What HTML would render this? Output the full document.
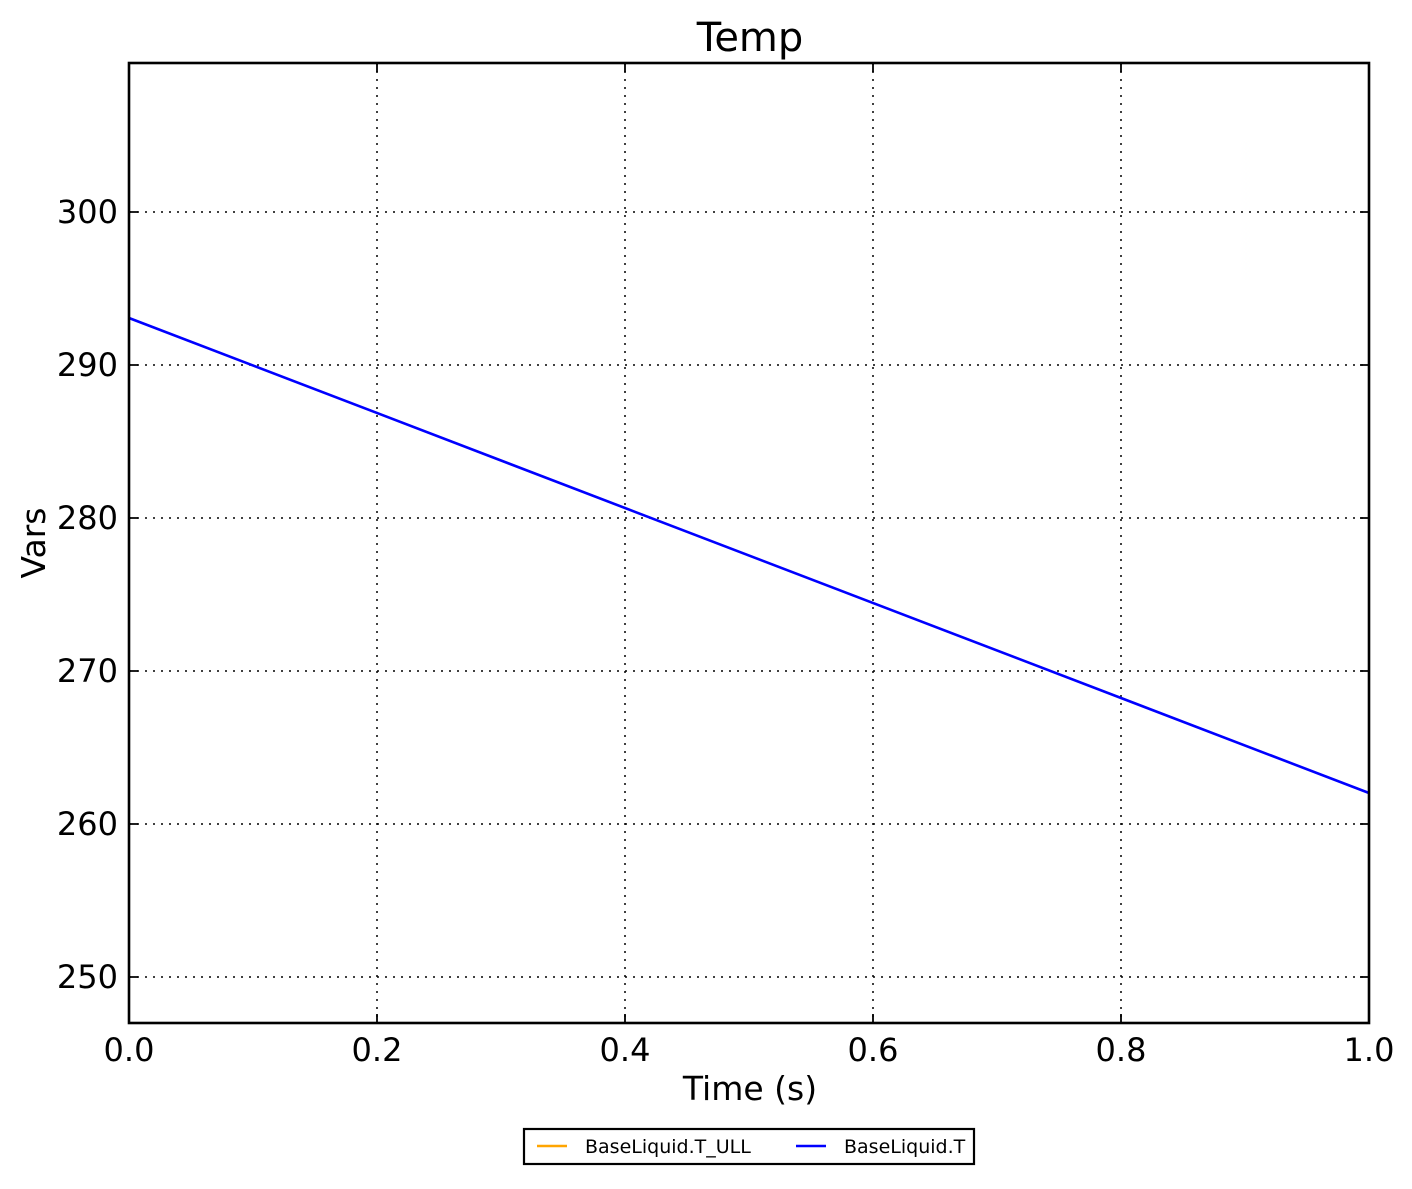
<!DOCTYPE html>
<html><head><meta charset="utf-8"><style>body{margin:0;background:#fff}</style></head>
<body>
<svg width="1412" height="1184" xmlns="http://www.w3.org/2000/svg" font-family="DejaVu Sans, Liberation Sans, sans-serif">
<rect width="1412" height="1184" fill="#fff"/>
<g stroke="#000" stroke-width="1.5" stroke-dasharray="2,6">
<line x1="377" y1="63" x2="377" y2="1023"/>
<line x1="625" y1="63" x2="625" y2="1023"/>
<line x1="873" y1="63" x2="873" y2="1023"/>
<line x1="1121" y1="63" x2="1121" y2="1023"/>
<line x1="129" y1="212" x2="1369" y2="212"/>
<line x1="129" y1="365" x2="1369" y2="365"/>
<line x1="129" y1="518" x2="1369" y2="518"/>
<line x1="129" y1="671" x2="1369" y2="671"/>
<line x1="129" y1="824" x2="1369" y2="824"/>
<line x1="129" y1="977" x2="1369" y2="977"/>
</g>
<g stroke="#000" stroke-width="1.8">
<path d="M377 1023v-9M625 1023v-9M873 1023v-9M1121 1023v-9M377 63v9M625 63v9M873 63v9M1121 63v9"/>
<path d="M129 212h9M129 365h9M129 518h9M129 671h9M129 824h9M129 977h9M1369 212h-9M1369 365h-9M1369 518h-9M1369 671h-9M1369 824h-9M1369 977h-9"/>
</g>
<line x1="129" y1="318" x2="1369" y2="793" stroke="#0000ff" stroke-width="2.6"/>
<rect x="129" y="63" width="1240" height="960" fill="none" stroke="#000" stroke-width="2.6"/>
<text x="750" y="51" font-size="40" text-anchor="middle">Temp</text>
<g font-size="32" text-anchor="end">
<text x="118" y="223">300</text><text x="118" y="376">290</text><text x="118" y="529">280</text>
<text x="118" y="682">270</text><text x="118" y="835">260</text><text x="118" y="988">250</text>
</g>
<g font-size="32" text-anchor="middle">
<text x="129" y="1061">0.0</text><text x="377" y="1061">0.2</text><text x="625" y="1061">0.4</text>
<text x="873" y="1061">0.6</text><text x="1121" y="1061">0.8</text><text x="1369" y="1061">1.0</text>
</g>
<text x="750" y="1100" font-size="33" text-anchor="middle">Time (s)</text>
<text x="0" y="0" font-size="33" text-anchor="middle" transform="translate(45,543) rotate(-90)">Vars</text>
<rect x="524" y="1129" width="450" height="35" fill="#fff" stroke="#000" stroke-width="2.2"/>
<line x1="537" y1="1146" x2="567" y2="1146" stroke="#ffa500" stroke-width="2.6"/>
<line x1="796" y1="1146" x2="826" y2="1146" stroke="#0000ff" stroke-width="2.6"/>
<g font-size="19"><text x="585" y="1153">BaseLiquid.T_ULL</text><text x="844" y="1153">BaseLiquid.T</text></g>
</svg>
</body></html>
